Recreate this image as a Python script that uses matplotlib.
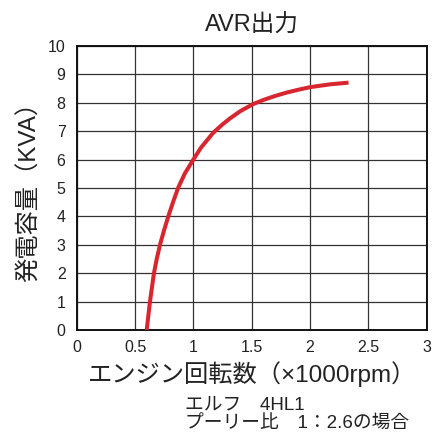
import matplotlib
matplotlib.use("Agg")
import matplotlib.pyplot as plt

plt.rcParams['font.family'] = ['Liberation Sans', 'Noto Sans CJK JP', 'DejaVu Sans']

# Data
rpm_k = [0.600, 0.628, 0.662, 0.686, 0.714, 0.748, 0.785, 0.828, 0.871, 0.928,
         1.000, 1.065, 1.171, 1.250, 1.314, 1.400, 1.510, 1.600, 1.700, 1.800,
         1.900, 2.000, 2.171, 2.330]
kva   = [0.00, 1.00, 2.00, 2.50, 3.00, 3.50, 4.00, 4.53, 5.02, 5.52,
         6.00, 6.42, 6.95, 7.24, 7.45, 7.70, 7.95, 8.10, 8.24, 8.36,
         8.46, 8.55, 8.65, 8.71]

x_ticks = [0, 0.5, 1, 1.5, 2, 2.5, 3]
x_tick_labels = ['0', '0.5', '1', '1.5', '2', '2.5', '3']
y_ticks = list(range(0, 11))

title = 'AVR出力'
xlabel = 'エンジン回転数（×1000rpm）'
ylabel = '発電容量（KVA）'
note1 = 'エルフ　4HL1'
note2 = 'プーリー比　1：2.6の場合'

fig = plt.figure(figsize=(4.41, 4.32), dpi=100)
ax = fig.add_axes([76.7/441, 1-330/432, (426.7-76.7)/441, (330-46)/432])

ax.plot(rpm_k, kva, color='#d7262f', lw=2.9, solid_capstyle='butt',
        solid_joinstyle='round', zorder=3)

ax.set_xlim(0, 3)
ax.set_ylim(0, 10)
ax.set_xticks(x_ticks)
ax.set_xticklabels(x_tick_labels)
ax.set_yticks(y_ticks)
ax.tick_params(length=0, labelsize=11.5, colors='#222222')
ax.tick_params(axis='y', pad=8)
ax.tick_params(axis='x', pad=7)
ax.grid(True, color='#333333', lw=0.9)
for s in ax.spines.values():
    s.set_linewidth(1.4)
    s.set_color('#111111')

ax.set_title(title, fontsize=17, pad=10, color='#222222')
ax.set_xlabel(xlabel, fontsize=17.5, labelpad=5, color='#222222')
ax.set_ylabel(ylabel, fontsize=17.5, color='#222222')
ax.yaxis.label.set_verticalalignment('center')
ax.yaxis.set_label_coords(-(76.7-29)/350, 0.5 + 2/284)

fig.text(185/441, 1-405/432, note1, fontsize=13.5, va='center', ha='left', color='#222222')
fig.text(185/441, 1-424/432, note2, fontsize=13.5, va='center', ha='left', color='#222222')

fig.savefig('out.png', dpi=100)
